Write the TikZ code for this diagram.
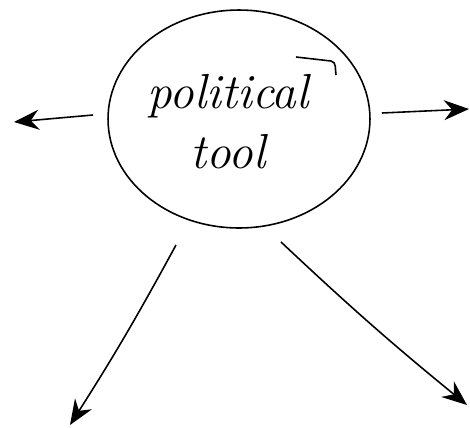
\documentclass[tikz,border=0pt]{standalone}
\usepackage{tikz}
\usetikzlibrary{arrows.meta,calc,positioning,shapes.geometric}

\begin{document}
\begin{tikzpicture}[
  x=0.02cm,
  y=-0.02cm,
  idea/.style={
    draw=black,
    ellipse,
    line width=0.9pt,
    minimum width=5.24cm,
    minimum height=4.36cm,
    inner sep=0pt
  },
  hand/.style={
    font=\itshape\fontsize{28}{34}\selectfont,
    align=center
  },
  branch/.style={
    -{Stealth[length=5mm,width=4mm]},
    line width=0.9pt,
    black
  }
]

\useasboundingbox (0,0) rectangle (470,427);

\node[idea] (tool) at (239,119) {};

\node[hand] (label) at (228,122)
  {political\\tool};

% Free ends of the arrows
\coordinate (lstart) at (93,115);
\coordinate (lend) at (14,122);
\coordinate (rstart) at (382,113);
\coordinate (rend) at (469,109);
\coordinate (dlstart) at (176,245);
\coordinate (dlend) at (70,425);
\coordinate (drstart) at (281,242);
\coordinate (drend) at (467,405);

% Closing stroke of the circle
\draw[line width=0.9pt]
  (296,57) -- (331,61) to[out=-10,in=100] (336,75);

\draw[branch] (lstart) -- (lend);
\draw[branch] (rstart) -- (rend);
\draw[branch] (dlstart) to[bend left=2] (dlend);
\draw[branch] (drstart) to[bend right=2] (drend);

\end{tikzpicture}
\end{document}
